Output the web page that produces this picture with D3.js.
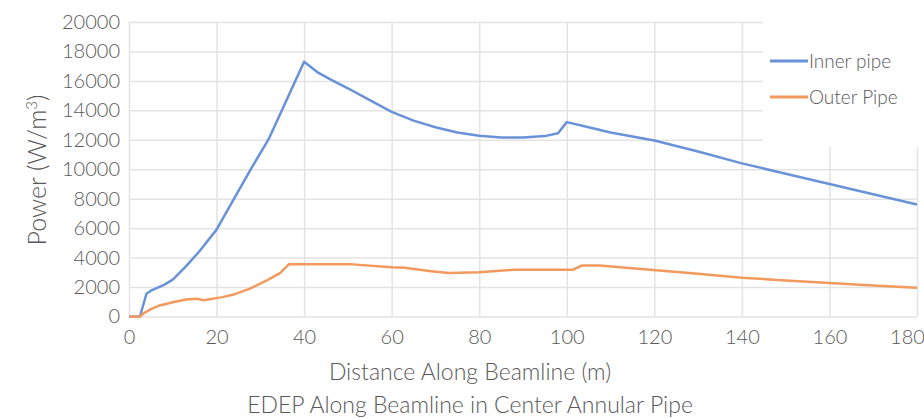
<!DOCTYPE html>
<html>
<head>
<meta charset="utf-8">
<script src="https://cdnjs.cloudflare.com/ajax/libs/d3/7.8.5/d3.min.js"></script>
<style>
  body { margin: 0; background: #fff; }
  text { font-family: Lato, "Open Sans", sans-serif; font-weight: 300; fill: #595959; }
</style>
</head>
<body>
<div id="chart"></div>
<script>
'use strict'
var width = 924;
var height = 419;

// values
var innerX = [0, 2.5, 4, 5, 8, 10, 13, 16, 20, 24, 28, 32, 36, 40, 43, 46, 50, 55, 60, 65, 70, 75, 80, 85, 90, 95, 98, 100, 105, 110, 120, 130, 140, 150, 160, 170, 180];
var innerY = [0, 0, 1550, 1750, 2150, 2500, 3400, 4400, 5900, 8000, 10100, 12100, 14700, 17300, 16600, 16100, 15500, 14700, 13900, 13300, 12850, 12500, 12270, 12150, 12150, 12250, 12450, 13200, 12850, 12500, 11950, 11200, 10400, 9700, 9000, 8300, 7600];

var outerX = [0, 2.5, 3.5, 5, 7, 10, 13, 15.5, 17, 21, 24, 27.5, 31.5, 34.5, 36.5, 51, 60, 63, 69, 73, 80, 88, 98, 101.5, 103.5, 107.5, 119, 130, 140, 150, 160, 170, 180];
var outerY = [0, 0, 250, 500, 750, 970, 1150, 1200, 1100, 1300, 1500, 1880, 2450, 2950, 3540, 3540, 3350, 3310, 3080, 2950, 3010, 3170, 3170, 3180, 3470, 3470, 3180, 2900, 2630, 2450, 2270, 2100, 1950];

var xTicks = [0, 20, 40, 60, 80, 100, 120, 140, 160, 180];
var yTicks = [0, 2000, 4000, 6000, 8000, 10000, 12000, 14000, 16000, 18000, 20000];

var seriesNames = ["Inner pipe", "Outer Pipe"];
var seriesColors = ["#6a92d8", "#f29a5e"];

var svg = d3.select("#chart")
	.append("svg")
	.attr("width", width)
	.attr("height", height);

var x = d3.scaleLinear().domain([0, 180]).range([129, 917]);
var y = d3.scaleLinear().domain([0, 20000]).range([316.5, 22]);

// grid
var xAxis = d3.axisBottom(x).tickValues(xTicks).tickFormat(d3.format("d"))
	.tickSize(-(y(0) - y(20000))).tickPadding(13);
var yAxis = d3.axisLeft(y).tickValues(yTicks).tickFormat(d3.format("d"))
	.tickSize(-(x(180) - x(0))).tickPadding(9);

var gx = svg.append("g")
	.attr("transform", "translate(0," + y(0) + ")")
	.call(xAxis);
var gy = svg.append("g")
	.attr("transform", "translate(" + x(0) + ",0)")
	.call(yAxis);

[gx, gy].forEach(function(g){
	g.select(".domain").remove();
	g.selectAll(".tick line").style("stroke", "#e3e3e3").style("stroke-width", "1.5px");
	g.selectAll(".tick text")
		.style("font-size", "20px")
		.style("font-family", "Lato, 'Open Sans', sans-serif")
		.style("font-weight", 300)
		.style("fill", "#595959");
});
// last label sits against the right edge, pull it in so it stays visible
gx.selectAll(".tick text").filter(function(d){ return d === 180; })
	.attr("x", -10);

// lines
var line = d3.line()
	.x(function(d){ return x(d[0]); })
	.y(function(d){ return y(d[1]); });

var innerData = d3.zip(innerX, innerY);
var outerData = d3.zip(outerX, outerY);

svg.append("path")
	.datum(innerData)
	.attr("d", line)
	.attr("fill", "none")
	.style("stroke", seriesColors[0])
	.style("stroke-width", "2.5px")
	.style("stroke-linejoin", "round");

svg.append("path")
	.datum(outerData)
	.attr("d", line)
	.attr("fill", "none")
	.style("stroke", seriesColors[1])
	.style("stroke-width", "2.5px")
	.style("stroke-linejoin", "round");

// legend
var legend = svg.append("g");
legend.append("rect")
	.attr("x", 763).attr("y", 19)
	.attr("width", 161).attr("height", 128)
	.attr("fill", "#fff");

var legendItems = legend.selectAll("g.item")
	.data(seriesNames)
	.enter()
	.append("g")
		.attr("transform", function(d, i){ return "translate(770," + (61 + i * 36) + ")"; });

legendItems.append("line")
	.attr("x1", 0).attr("x2", 38)
	.attr("y1", 0).attr("y2", 0)
	.style("stroke", function(d, i){ return seriesColors[i]; })
	.style("stroke-width", "3px");

legendItems.append("text")
	.attr("x", 39)
	.attr("y", 0)
	.attr("dy", "0.35em")
	.style("font-size", "19px")
	.text(function(d){ return d; });

// titles
svg.append("text")
	.attr("transform", "translate(46,170) rotate(-90)")
	.attr("text-anchor", "middle")
	.style("font-size", "25px")
	.html("Power (W/m<tspan dy='-9' style='font-size:15px'>3</tspan><tspan dy='9'>)</tspan>");

svg.append("text")
	.attr("x", 470).attr("y", 380)
	.attr("text-anchor", "middle")
	.style("font-size", "23px")
	.text("Distance Along Beamline (m)");

svg.append("text")
	.attr("x", 470).attr("y", 413)
	.attr("text-anchor", "middle")
	.style("font-size", "23px")
	.text("EDEP Along Beamline in Center Annular Pipe");
</script>
</body>
</html>
